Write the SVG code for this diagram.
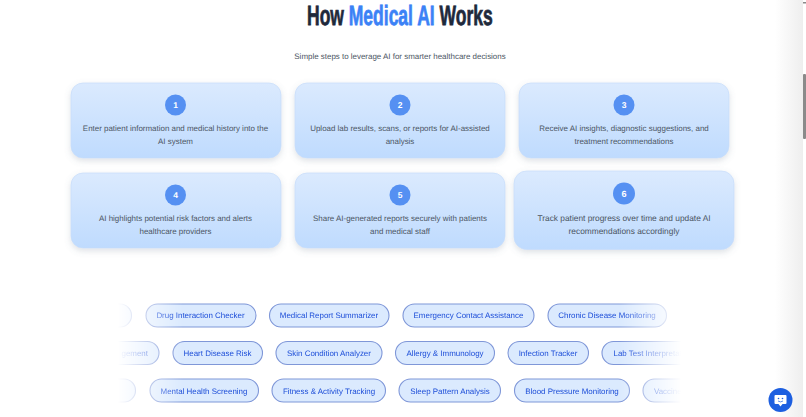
<svg xmlns="http://www.w3.org/2000/svg" width="806" height="417" viewBox="0 0 806 417">
<style>
text{font-family:"Liberation Sans",Arial,sans-serif;text-rendering:geometricPrecision}
.card{fill:url(#cardGrad);stroke:#c7dcfb;stroke-width:.7;filter:url(#shadow)}
.num{fill:#5590f2}
.numt{fill:#fff;font-size:8.5px;font-weight:700;text-anchor:middle}
.desc{fill:#4b5563;font-size:7.95px;text-anchor:middle}
.pill{fill:#dbeafe;stroke:#7f97d8;stroke-width:1.1}
.pillt{fill:#1d4ed8;font-size:7.95px;text-anchor:middle}
</style>
<defs>
<linearGradient id="cardGrad" x1="0" y1="0" x2="0" y2="1"><stop offset="0" stop-color="#dbeafe"/><stop offset="1" stop-color="#bfdbfe"/></linearGradient>
<filter id="shadow" x="-10%" y="-15%" width="120%" height="140%"><feDropShadow dx="0" dy="2.5" stdDeviation="3" flood-color="#64748b" flood-opacity=".22"/></filter>
<linearGradient id="fade" gradientUnits="userSpaceOnUse" x1="100" y1="0" x2="690" y2="0">
<stop offset=".03" stop-color="#000"/><stop offset=".14" stop-color="#fff"/><stop offset=".88" stop-color="#fff"/><stop offset=".985" stop-color="#000"/>
</linearGradient>
<mask id="fadeMask" maskUnits="userSpaceOnUse" x="0" y="290" width="806" height="127"><rect x="0" y="290" width="806" height="127" fill="url(#fade)"/></mask>
<linearGradient id="edge" x1="0" y1="0" x2="1" y2="0"><stop offset="0" stop-color="#fff"/><stop offset="1" stop-color="#eeeeee"/></linearGradient>
</defs>
<rect width="806" height="417" fill="#fff"/>
<rect x="775" y="0" width="28" height="417" fill="url(#edge)"/>
<rect x="803" y="74" width="3" height="65" rx="1" fill="#8a8a8a"/>
<rect x="803" y="2" width="3" height="1.5" fill="#8a8a8a"/>
<g id="title">
<text transform="translate(307 24.5) scale(.795 1.27)" font-size="22" font-weight="700" fill="#1e293b" stroke="#1e293b" stroke-width=".6">How <tspan fill="#3b82f6" stroke="#3b82f6">Medical AI</tspan> Works</text>
<text x="400" y="59" font-size="7.95" fill="#4b5563" text-anchor="middle">Simple steps to leverage AI for smarter healthcare decisions</text>
</g>
<g id="step-1"><rect class="card" x="71" y="83" width="210" height="75" rx="12"/><circle class="num" cx="175.500" cy="105" r="10.500"/><text class="numt" x="175.500" y="108">1</text><text class="desc" x="175.500" y="131">Enter patient information and medical history into the</text><text class="desc" x="175.500" y="144">AI system</text></g>
<g id="step-2"><rect class="card" x="295" y="83" width="210" height="75" rx="12"/><circle class="num" cx="400" cy="105" r="10.500"/><text class="numt" x="400" y="108">2</text><text class="desc" x="400" y="131">Upload lab results, scans, or reports for AI-assisted</text><text class="desc" x="400" y="144">analysis</text></g>
<g id="step-3"><rect class="card" x="519" y="83" width="210" height="75" rx="12"/><circle class="num" cx="624" cy="105" r="10.500"/><text class="numt" x="624" y="108">3</text><text class="desc" x="624" y="131">Receive AI insights, diagnostic suggestions, and</text><text class="desc" x="624" y="144">treatment recommendations</text></g>
<g id="step-4"><rect class="card" x="71" y="173" width="210" height="75" rx="12"/><circle class="num" cx="175.500" cy="195" r="10.500"/><text class="numt" x="175.500" y="198">4</text><text class="desc" x="175.500" y="221">AI highlights potential risk factors and alerts</text><text class="desc" x="175.500" y="234">healthcare providers</text></g>
<g id="step-5"><rect class="card" x="295" y="173" width="210" height="75" rx="12"/><circle class="num" cx="400" cy="195" r="10.500"/><text class="numt" x="400" y="198">5</text><text class="desc" x="400" y="221">Share AI-generated reports securely with patients</text><text class="desc" x="400" y="234">and medical staff</text></g>
<g id="step-6"><rect class="card" x="514" y="171" width="220" height="78.500" rx="12.500"/><circle class="num" cx="624" cy="193.500" r="11"/><text class="numt" x="624" y="196.500" style="font-size:9px">6</text><text class="desc" x="624" y="220.500" style="font-size:8.350px">Track patient progress over time and update AI</text><text class="desc" x="624" y="234" style="font-size:8.350px">recommendations accordingly</text></g>
<g id="pills" mask="url(#fadeMask)">
<g id="row-1">
<rect class="pill" x="60" y="304" width="71.500" height="23" rx="11.500"/>
<g id="pill-drug"><rect class="pill" x="146" y="304" width="110" height="23" rx="11.500"/><text class="pillt" x="200.500" y="318">Drug Interaction Checker</text></g>
<g id="pill-report"><rect class="pill" x="269.500" y="304" width="119.500" height="23" rx="11.500"/><text class="pillt" x="329" y="318">Medical Report Summarizer</text></g>
<g id="pill-emergency"><rect class="pill" x="403" y="304" width="131" height="23" rx="11.500"/><text class="pillt" x="468.500" y="318">Emergency Contact Assistance</text></g>
<g id="pill-chronic"><rect class="pill" x="548" y="304" width="118.500" height="23" rx="11.500"/><text class="pillt" x="607" y="318">Chronic Disease Monitoring</text></g>
</g>
<g id="row-2">
<rect class="pill" x="60" y="341.500" width="99" height="23" rx="11.500"/><text class="pillt" x="148" y="356" style="text-anchor:end">gement</text>
<g id="pill-heart"><rect class="pill" x="173" y="341.500" width="89.500" height="23" rx="11.500"/><text class="pillt" x="217.500" y="356">Heart Disease Risk</text></g>
<g id="pill-skin"><rect class="pill" x="276" y="341.500" width="106" height="23" rx="11.500"/><text class="pillt" x="329" y="356">Skin Condition Analyzer</text></g>
<g id="pill-allergy"><rect class="pill" x="395.500" y="341.500" width="99" height="23" rx="11.500"/><text class="pillt" x="445" y="356">Allergy &amp; Immunology</text></g>
<g id="pill-infection"><rect class="pill" x="508" y="341.500" width="80.500" height="23" rx="11.500"/><text class="pillt" x="548" y="356">Infection Tracker</text></g>
<g id="pill-lab"><rect class="pill" x="602" y="341.500" width="120" height="23" rx="11.500"/><text class="pillt" x="613.500" y="356" style="text-anchor:start">Lab Test Interpretation</text></g>
</g>
<g id="row-3">
<rect class="pill" x="60" y="379" width="75.500" height="23" rx="11.500"/>
<g id="pill-mental"><rect class="pill" x="150" y="379" width="108.500" height="23" rx="11.500"/><text class="pillt" x="204" y="393.500">Mental Health Screening</text></g>
<g id="pill-fitness"><rect class="pill" x="272" y="379" width="113.500" height="23" rx="11.500"/><text class="pillt" x="329" y="393.500">Fitness &amp; Activity Tracking</text></g>
<g id="pill-sleep"><rect class="pill" x="399" y="379" width="101.500" height="23" rx="11.500"/><text class="pillt" x="450" y="393.500">Sleep Pattern Analysis</text></g>
<g id="pill-blood"><rect class="pill" x="514.500" y="379" width="115" height="23" rx="11.500"/><text class="pillt" x="572" y="393.500">Blood Pressure Monitoring</text></g>
<g id="pill-vaccine"><rect class="pill" x="643" y="379" width="100" height="23" rx="11.500"/><text class="pillt" x="654" y="393.500" style="text-anchor:start">Vaccine</text></g>
</g>
</g>
<g id="chat-button">
<circle cx="780.500" cy="400" r="12" fill="#1d5fe0"/>
<path d="M775.500 395h10a1 1 0 0 1 1 1v7a1 1 0 0 1-1 1h-3l-2 2.500-2-2.500h-3a1 1 0 0 1-1-1v-7a1 1 0 0 1 1-1z" fill="#fff"/>
<circle cx="778.500" cy="398.500" r=".8" fill="#1d5fe0"/><circle cx="782.500" cy="398.500" r=".8" fill="#1d5fe0"/>
<path d="M778 401q2.500 1.800 5 0" fill="none" stroke="#1d5fe0" stroke-width=".7"/>
</g>
</svg>
